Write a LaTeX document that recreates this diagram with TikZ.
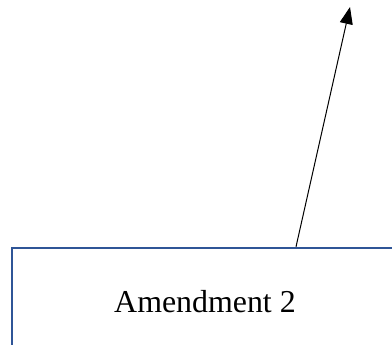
\documentclass[tikz,border=0pt]{standalone}
\usepackage{fontspec}
\setmainfont{Liberation Serif}
\usepackage{xcolor}
\usetikzlibrary{arrows.meta}
\definecolor{boxblue}{HTML}{2F5597}

\begin{document}
\begin{tikzpicture}[x=1bp, y=-1bp, every node/.style={font=\fontsize{32}{38}\selectfont}]
    \useasboundingbox (0,0) rectangle (392,345);
    \clip (0,0) rectangle (392,345);
    \node[draw=boxblue, line width=2.4bp, minimum width=386bp, minimum height=108bp, inner sep=0pt] (amend) at (205,302) {Amendment 2};
    \coordinate (tip) at (350,7);
    \draw[line width=1bp, -{Triangle[length=17bp,width=13bp]}] ([xshift=91bp]amend.north) -- (tip);
  \end{tikzpicture}
\end{document}
